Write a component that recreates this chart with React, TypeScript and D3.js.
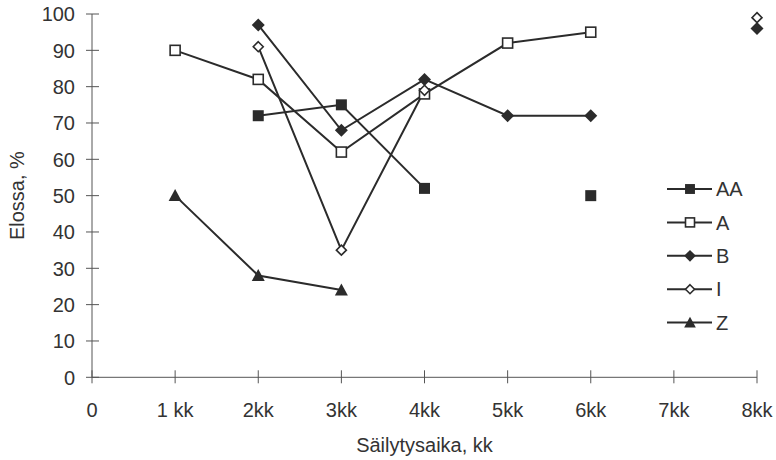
import React from "react";
import * as d3 from "d3";

const xTickLabels = ["0", "1 kk", "2kk", "3kk", "4kk", "5kk", "6kk", "7kk", "8kk"];
const yTicks = [0, 10, 20, 30, 40, 50, 60, 70, 80, 90, 100];
const seriesNames = ["AA", "A", "B", "I", "Z"];
// values by month index 0..8 (null = missing)
const AA = [null, null, 72, 75, 52, null, 50, null, null];
const A = [null, 90, 82, 62, 78, 92, 95, null, null];
const B = [null, null, 97, 68, 82, 72, 72, null, 96];
const I = [null, null, 91, 35, 79, null, null, null, 99];
const Z = [null, 50, 28, 24, null, null, null, null, null];

const seriesValues: (number | null)[][] = [AA, A, B, I, Z];
const markerKinds = ["squareFilled", "squareOpen", "diamondFilled", "diamondOpen", "triangle"];

const W = 776;
const H = 460;
const INK = "#2b2b2b";
const AXIS = "#555";
const FONT = "'Liberation Sans', Arial, sans-serif";

function Marker({ kind, x, y, scale = 1 }: { kind: string; x: number; y: number; scale?: number }) {
  if (kind === "squareFilled") {
    const s = 11 * scale;
    return <rect x={x - s / 2} y={y - s / 2} width={s} height={s} fill={INK} />;
  }
  if (kind === "squareOpen") {
    const s = 10 * scale;
    return <rect x={x - s / 2} y={y - s / 2} width={s} height={s} fill="#fff" stroke={INK} strokeWidth={1.6} />;
  }
  if (kind === "diamondFilled") {
    const r = 6.5 * scale;
    return <path d={`M${x},${y - r}L${x + r},${y}L${x},${y + r}L${x - r},${y}Z`} fill={INK} />;
  }
  if (kind === "diamondOpen") {
    const r = 5 * scale;
    return <path d={`M${x},${y - r}L${x + r},${y}L${x},${y + r}L${x - r},${y}Z`} fill="#fff" stroke={INK} strokeWidth={1.6} />;
  }
  const h = 12 * scale;
  const w = 13 * scale;
  return <path d={`M${x},${y - h * 0.55}L${x + w / 2},${y + h * 0.45}L${x - w / 2},${y + h * 0.45}Z`} fill={INK} />;
}

export default function App() {
  const x = d3.scaleLinear().domain([0, 8]).range([92, 757]);
  const y = d3.scaleLinear().domain([0, 100]).range([377.3, 14]);
  const line = d3
    .line<number | null>()
    .defined((d) => d !== null)
    .x((_, i) => x(i))
    .y((d) => y(d as number));

  const legendX0 = 667;
  const legendX1 = 712;
  const legendY0 = 189;
  const legendStep = 33.4;

  return (
    <svg width={W} height={H} style={{ position: "absolute", left: 0, top: 0, background: "#fff" }} fontFamily={FONT}>
      <rect x={0} y={0} width={W} height={H} fill="#fff" />
      {/* axes */}
      <line x1={x(0)} x2={x(0)} y1={y(100)} y2={y(0)} stroke={AXIS} strokeWidth={1} />
      <line x1={x(0)} x2={x(8)} y1={y(0)} y2={y(0)} stroke={AXIS} strokeWidth={1} />
      {yTicks.map((t) => (
        <g key={"y" + t}>
          <line x1={x(0) - 6} x2={x(0) + 7} y1={y(t)} y2={y(t)} stroke={AXIS} strokeWidth={1} />
          <text x={75} y={y(t)} dy="0.36em" textAnchor="end" fontSize={20} fill="#333">
            {t}
          </text>
        </g>
      ))}
      {xTickLabels.map((lab, i) => (
        <g key={"x" + i}>
          <line x1={x(i)} x2={x(i)} y1={y(0) - 7} y2={y(0) + 6} stroke={AXIS} strokeWidth={1} />
          <text x={x(i)} y={417} textAnchor="middle" fontSize={20} fill="#333">
            {lab}
          </text>
        </g>
      ))}
      <text x={(x(0) + x(8)) / 2} y={452} textAnchor="middle" fontSize={20} fill="#333">
        Säilytysaika, kk
      </text>
      <text
        transform={`translate(24,${(y(0) + y(100)) / 2}) rotate(-90)`}
        textAnchor="middle"
        fontSize={20}
        fill="#333"
      >
        Elossa, %
      </text>
      {/* series lines */}
      {seriesValues.map((vals, si) => (
        <path key={"l" + si} d={line(vals) || ""} fill="none" stroke={INK} strokeWidth={2} />
      ))}
      {/* markers */}
      {seriesValues.map((vals, si) =>
        vals.map((v, i) =>
          v === null ? null : <Marker key={`m${si}-${i}`} kind={markerKinds[si]} x={x(i)} y={y(v)} />
        )
      )}
      {/* legend */}
      {seriesNames.map((name, si) => {
        const ly = legendY0 + si * legendStep;
        return (
          <g key={"lg" + si}>
            <line x1={legendX0} x2={legendX1} y1={ly} y2={ly} stroke={INK} strokeWidth={2} />
            <Marker kind={markerKinds[si]} x={(legendX0 + legendX1) / 2 + 0.5} y={ly} scale={0.9} />
            <text x={716} y={ly} dy="0.36em" fontSize={20} fill="#333">
              {name}
            </text>
          </g>
        );
      })}
    </svg>
  );
}
